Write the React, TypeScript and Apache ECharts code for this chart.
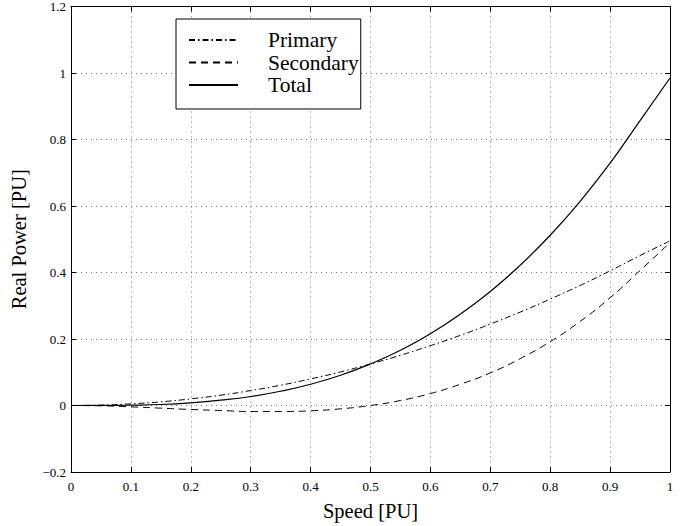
import React, { useEffect, useRef } from "react";
import * as echarts from "echarts";

const speed = [0, 0.05, 0.1, 0.15, 0.2, 0.25, 0.3, 0.35, 0.4, 0.45, 0.5, 0.55, 0.6, 0.65, 0.7, 0.75, 0.8, 0.85, 0.9, 0.95, 1.0];
const primary = [0, 0.001, 0.005, 0.011, 0.02, 0.031, 0.045, 0.061, 0.08, 0.101, 0.125, 0.151, 0.18, 0.211, 0.245, 0.281, 0.32, 0.361, 0.405, 0.451, 0.495];
const secondary = [0, -0.001, -0.004, -0.008, -0.012, -0.015, -0.018, -0.018, -0.016, -0.01, 0, 0.015, 0.036, 0.064, 0.098, 0.141, 0.192, 0.253, 0.324, 0.406, 0.49];
const total = [0, 0.0001, 0.001, 0.003, 0.008, 0.016, 0.027, 0.043, 0.064, 0.091, 0.125, 0.166, 0.216, 0.275, 0.343, 0.422, 0.512, 0.614, 0.729, 0.857, 0.985];
const seriesNames = ["Primary", "Secondary", "Total"];

const FONT = "Liberation Serif";

export default function App() {
  const ref = useRef<HTMLDivElement>(null);
  useEffect(() => {
    if (!ref.current) return;
    const chart = echarts.init(ref.current, null, { renderer: "svg" });
    const pair = (ys: number[]) => speed.map((x, i) => [x, ys[i]]);
    const gridLine = { show: true, lineStyle: { color: "#777", width: 1, type: [1, 4] as any } };
    const baseX = { type: "value" as const, min: 0, max: 1, interval: 0.1 };
    const baseY = { type: "value" as const, min: -0.2, max: 1.2, interval: 0.2 };
    const frameLine = { show: true, onZero: false, lineStyle: { color: "#000", width: 1 } };
    const innerTick = { show: true, inside: true, length: 5, lineStyle: { color: "#000" } };
    chart.setOption({
      animation: false,
      backgroundColor: "#fff",
      textStyle: { fontFamily: FONT },
      grid: { left: 63, right: 23, top: 5, bottom: 43, containLabel: false },
      xAxis: [
        {
          ...baseX,
          position: "bottom",
          name: "Speed [PU]",
          nameLocation: "middle",
          nameGap: 28,
          nameTextStyle: { fontFamily: FONT, fontSize: 20.5, color: "#000" },
          axisLine: frameLine,
          axisTick: innerTick,
          axisLabel: {
            fontFamily: FONT,
            fontSize: 13,
            color: "#000",
            margin: 8,
            formatter: (v: number) => (Math.abs(v - 1) < 1e-9 ? "1" : v === 0 ? "0" : v.toFixed(1)),
          },
          splitLine: gridLine,
        },
        {
          ...baseX,
          position: "top",
          axisLine: frameLine,
          axisTick: innerTick,
          axisLabel: { show: false },
          splitLine: { show: false },
        },
      ],
      yAxis: [
        {
          ...baseY,
          position: "left",
          name: "Real Power [PU]",
          nameLocation: "middle",
          nameGap: 42,
          nameRotate: 90,
          nameTextStyle: { fontFamily: FONT, fontSize: 20.5, color: "#000" },
          axisLine: frameLine,
          axisTick: innerTick,
          axisLabel: {
            fontFamily: FONT,
            fontSize: 13,
            color: "#000",
            margin: 5,
            formatter: (v: number) => {
              const r = Math.round(v * 10) / 10;
              if (r === 0) return "0";
              if (r === 1) return "1";
              const s = Math.abs(r).toFixed(1);
              return r < 0 ? "\u2212" + s : s;
            },
          },
          splitLine: gridLine,
        },
        {
          ...baseY,
          position: "right",
          axisLine: frameLine,
          axisTick: innerTick,
          axisLabel: { show: false },
          splitLine: { show: false },
        },
      ],
      legend: {
        show: true,
        orient: "vertical",
        left: 176,
        top: 19,
        padding: [10, 2, 13, 12],
        itemGap: 0.5,
        itemWidth: 49,
        itemHeight: 14,
        borderColor: "#000",
        borderWidth: 1,
        borderRadius: 0,
        backgroundColor: "#fff",
        itemStyle: { opacity: 0 },
        textStyle: { fontFamily: FONT, fontSize: 21.5, lineHeight: 22, color: "#000", padding: [0, 0, 0, 25] },
        data: seriesNames,
      },
      series: [
        {
          name: seriesNames[0],
          type: "line",
          data: pair(primary),
          smooth: true,
          showSymbol: false,
          symbol: "none",
          lineStyle: { color: "#000", width: 1, type: [6, 3, 1.5, 3] as any },
          itemStyle: { color: "#000" },
        },
        {
          name: seriesNames[1],
          type: "line",
          data: pair(secondary),
          smooth: true,
          showSymbol: false,
          symbol: "none",
          lineStyle: { color: "#000", width: 1, type: [7, 5] as any },
          itemStyle: { color: "#000" },
        },
        {
          name: seriesNames[2],
          type: "line",
          data: pair(total),
          smooth: true,
          showSymbol: false,
          symbol: "none",
          lineStyle: { color: "#000", width: 1.2, type: "solid" },
          itemStyle: { color: "#000" },
        },
      ],
    });
    return () => chart.dispose();
  }, []);
  return <div ref={ref} style={{ width: 693, height: 526, position: "absolute", left: 0, top: 0 }} />;
}
